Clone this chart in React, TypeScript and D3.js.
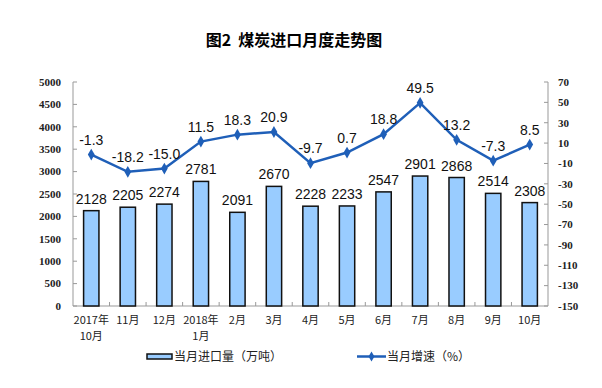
import { useEffect, useRef } from "react";
import * as d3 from "d3";

const months = ["2017年\n10月", "11月", "12月", "2018年\n1月", "2月", "3月", "4月", "5月", "6月", "7月", "8月", "9月", "10月"];
const imports = [2128, 2205, 2274, 2781, 2091, 2670, 2228, 2233, 2547, 2901, 2868, 2514, 2308];
const growth = [-1.3, -18.2, -15.0, 11.5, 18.3, 20.9, -9.7, 0.7, 18.8, 49.5, 13.2, -7.3, 8.5];
const leftTicks = [0, 500, 1000, 1500, 2000, 2500, 3000, 3500, 4000, 4500, 5000];
const rightTicks = [-150, -130, -110, -90, -70, -50, -30, -10, 10, 30, 50, 70];

const W = 602;
const H = 388;

export default function App() {
  const svgRef = useRef<SVGSVGElement>(null);

  useEffect(() => {
    if (!svgRef.current) return;
    const svg = d3.select(svgRef.current);
    svg.selectAll("*").remove();

    const left = 73, right = 548, top = 82, bottom = 306;
    const axisColor = "#999";
    const lineColor = "#1f5fb8";

    const x = d3.scaleBand().domain(months).range([left, right]).paddingInner(0.58).paddingOuter(0.29);
    const yL = d3.scaleLinear().domain([0, 5000]).range([bottom, top]);
    const yR = d3.scaleLinear().domain([-150, 70]).range([bottom, top]);
    const step = x.step();

    svg.append("text")
      .attr("x", 294).attr("y", 46)
      .attr("text-anchor", "middle")
      .attr("font-family", "'Noto Sans CJK SC', sans-serif")
      .attr("font-size", 16).attr("font-weight", "bold")
      .attr("fill", "#000")
      .attr("xml:space", "preserve")
      .style("white-space", "pre")
      .text("图2  煤炭进口月度走势图");

    // axes
    const ga = svg.append("g").attr("stroke", axisColor).attr("stroke-width", 1);
    ga.append("line").attr("x1", left).attr("x2", left).attr("y1", top).attr("y2", bottom);
    ga.append("line").attr("x1", right).attr("x2", right).attr("y1", top).attr("y2", bottom);
    ga.append("line").attr("x1", left).attr("x2", right).attr("y1", bottom).attr("y2", bottom);
    ga.selectAll(".lt").data(leftTicks).join("line")
      .attr("x1", left).attr("x2", left + 4)
      .attr("y1", (d) => yL(d)).attr("y2", (d) => yL(d));
    ga.selectAll(".rt").data(rightTicks).join("line")
      .attr("x1", right - 4).attr("x2", right)
      .attr("y1", (d) => yR(d)).attr("y2", (d) => yR(d));
    ga.selectAll(".xt").data(d3.range(1, months.length)).join("line")
      .attr("x1", (i) => left + i * step).attr("x2", (i) => left + i * step)
      .attr("y1", bottom).attr("y2", bottom - 4);

    const tickFont = "'Liberation Serif', serif";
    svg.append("g").selectAll("text").data(leftTicks).join("text")
      .attr("x", left - 12).attr("y", (d) => yL(d)).attr("dy", "0.35em")
      .attr("text-anchor", "end").attr("font-family", tickFont)
      .attr("font-size", 11).attr("font-weight", "bold").attr("fill", "#222")
      .text((d) => d);
    svg.append("g").selectAll("text").data(rightTicks).join("text")
      .attr("x", right + 10).attr("y", (d) => yR(d)).attr("dy", "0.35em")
      .attr("text-anchor", "start").attr("font-family", tickFont)
      .attr("font-size", 11).attr("font-weight", "bold").attr("fill", "#222")
      .text((d) => d);

    // x labels
    const xl = svg.append("g").selectAll("text").data(months).join("text")
      .attr("x", (d) => x(d)! + x.bandwidth() / 2)
      .attr("y", 324)
      .attr("text-anchor", "middle")
      .attr("font-family", "'Noto Sans CJK SC', sans-serif")
      .attr("font-size", 11).attr("fill", "#222");
    xl.each(function (d) {
      const parts = d.split("\n");
      const t = d3.select(this);
      parts.forEach((p, i) => {
        t.append("tspan").attr("x", x(d)! + x.bandwidth() / 2).attr("dy", i === 0 ? 0 : 16).text(p);
      });
    });

    // bars
    svg.append("g").selectAll("rect").data(imports).join("rect")
      .attr("x", (_, i) => x(months[i])!)
      .attr("y", (d) => yL(d))
      .attr("width", x.bandwidth())
      .attr("height", (d) => bottom - yL(d))
      .attr("fill", "#99ccff").attr("stroke", "#111").attr("stroke-width", 1.5);

    const valFont = "'Liberation Sans', Arial, sans-serif";
    svg.append("g").selectAll("text").data(imports).join("text")
      .attr("x", (_, i) => x(months[i])! + x.bandwidth() / 2)
      .attr("y", (d) => yL(d) - 7)
      .attr("text-anchor", "middle").attr("font-family", valFont)
      .attr("font-size", 14).attr("fill", "#111")
      .text((d) => d);

    // line
    const cx = (i: number) => x(months[i])! + x.bandwidth() / 2;
    const line = d3.line<number>().x((_, i) => cx(i)).y((d) => yR(d));
    svg.append("path").datum(growth).attr("d", line)
      .attr("fill", "none").attr("stroke", lineColor).attr("stroke-width", 2.5);
    svg.append("g").selectAll("path").data(growth).join("path")
      .attr("d", d3.symbol(d3.symbolDiamond, 40)()!)
      .attr("transform", (d, i) => `translate(${cx(i)},${yR(d)})`)
      .attr("fill", lineColor);
    svg.append("g").selectAll("text").data(growth).join("text")
      .attr("x", (_, i) => cx(i))
      .attr("y", (d) => yR(d) - 10)
      .attr("text-anchor", "middle").attr("font-family", valFont)
      .attr("font-size", 14).attr("fill", "#111")
      .text((d) => d.toFixed(1));

    // legend
    const lg = svg.append("g");
    lg.append("rect").attr("x", 147).attr("y", 354).attr("width", 25).attr("height", 5)
      .attr("fill", "#99ccff").attr("stroke", "#111").attr("stroke-width", 1.5);
    lg.append("text").attr("x", 174).attr("y", 361)
      .attr("font-family", "'Noto Sans CJK SC', sans-serif").attr("font-size", 12).attr("fill", "#222")
      .text("当月进口量（万吨）");
    lg.append("line").attr("x1", 357).attr("x2", 386).attr("y1", 356.5).attr("y2", 356.5)
      .attr("stroke", lineColor).attr("stroke-width", 2.5);
    lg.append("path").attr("d", d3.symbol(d3.symbolDiamond, 30)()!)
      .attr("transform", "translate(371.5,356.5)").attr("fill", lineColor);
    lg.append("text").attr("x", 387).attr("y", 361)
      .attr("font-family", "'Noto Sans CJK SC', sans-serif").attr("font-size", 12).attr("fill", "#222")
      .text("当月增速（%）");
  }, []);

  return (
    <div style={{ position: "absolute", left: 0, top: 0, width: W, height: H, background: "#fff" }}>
      <svg ref={svgRef} width={W} height={H} />
    </div>
  );
}
